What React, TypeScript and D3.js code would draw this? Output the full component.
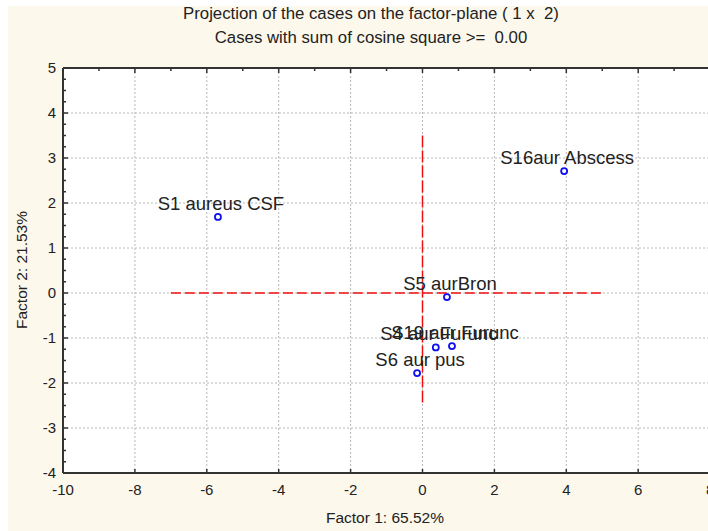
import React from "react";
import * as d3 from "d3";

const caseNames = ["S1 aureus CSF", "S16aur Abscess", "S5 aurBron", "S4 aur Furunc", "S19 aur Furunc", "S6 aur pus"];
const factor1 = [-5.69, 3.94, 0.68, 0.37, 0.82, -0.15];
const factor2 = [1.69, 2.71, -0.09, -1.21, -1.18, -1.78];
const xTicks = [-10, -8, -6, -4, -2, 0, 2, 4, 6, 8];
const yTicks = [-4, -3, -2, -1, 0, 1, 2, 3, 4, 5];
const titleLines = ["Projection of the cases on the factor-plane ( 1 x  2)", "Cases with sum of cosine square >=  0.00"];
const xTitle = "Factor 1: 65.52%";
const yTitle = "Factor 2: 21.53%";
const hLineRange = [-7, 5];
const vLineRange = [-2.5, 3.5];

export default function App() {
  const W = 708, H = 531;
  const x = d3.scaleLinear().domain([-10, 10]).range([63, 782]);
  const y = d3.scaleLinear().domain([-4, 5]).range([473, 68]);
  const font = "Arial, 'Liberation Sans', sans-serif";
  const x0 = x(-10), x1 = x(10), yTop = y(5), yBot = y(-4);
  const minorY = d3.range(-4, 5.001, 0.25);
  const topTicks = d3.range(-10, 10.001, 1);
  const pre = { whiteSpace: "pre" as const };
  return (
    <svg width={W} height={H} style={{ position: "absolute", left: 0, top: 0 }} fontFamily={font}>
      <rect x={0} y={0} width={W} height={H} fill="#ffffff" />
      <rect x={8} y={6} width={W - 8} height={H - 6} fill="#fdf8ec" />
      <text x={371} y={19} textAnchor="middle" fontSize={16.8} fill="#222" style={pre}>{titleLines[0]}</text>
      <text x={371} y={43} textAnchor="middle" fontSize={16.8} fill="#222" style={pre}>{titleLines[1]}</text>
      <rect x={x0} y={yTop} width={x1 - x0} height={yBot - yTop} fill="#ffffff" />
      {/* grid */}
      {yTicks.filter(t => t > -4 && t < 5).map(t => (
        <line key={"gy" + t} x1={x0} x2={x1} y1={y(t)} y2={y(t)} stroke="#b8b8b8" strokeWidth={1} strokeDasharray="2,2" />
      ))}
      {xTicks.filter(t => t > -10).map(t => (
        <line key={"gx" + t} x1={x(t)} x2={x(t)} y1={yTop} y2={yBot} stroke="#b8b8b8" strokeWidth={1} strokeDasharray="2,2" />
      ))}
      {/* red reference lines */}
      <line x1={x(hLineRange[0])} x2={x(hLineRange[1])} y1={y(0)} y2={y(0)} stroke="#f01010" strokeWidth={1.5} strokeDasharray="10,4" />
      <line x1={x(0)} x2={x(0)} y1={y(vLineRange[1])} y2={y(vLineRange[0])} stroke="#f01010" strokeWidth={1.5} strokeDasharray="12,3" />
      {/* frame */}
      <line x1={x0} x2={x1} y1={yTop} y2={yTop} stroke="#333" strokeWidth={2} />
      <line x1={x0} x2={x1} y1={yBot} y2={yBot} stroke="#333" strokeWidth={2} />
      <line x1={x0} x2={x0} y1={yTop} y2={yBot} stroke="#333" strokeWidth={2} />
      {minorY.map(t => {
        const major = Math.abs(t - Math.round(t)) < 1e-6;
        return <line key={"my" + t} x1={x0} x2={x0 + (major ? 5 : 3)} y1={y(t)} y2={y(t)} stroke="#333" strokeWidth={1.5} />;
      })}
      {topTicks.map(t => {
        const major = t % 2 === 0;
        return <line key={"tt" + t} x1={x(t)} x2={x(t)} y1={yTop} y2={yTop + (major ? 5 : 3)} stroke="#333" strokeWidth={1.5} />;
      })}
      {xTicks.map(t => (
        <line key={"bt" + t} x1={x(t)} x2={x(t)} y1={yBot} y2={yBot - 4} stroke="#333" strokeWidth={1.5} />
      ))}
      {/* tick labels */}
      {yTicks.map(t => (
        <text key={"yl" + t} x={56} y={y(t) + 5} textAnchor="end" fontSize={15} fill="#222">{t}</text>
      ))}
      {xTicks.map(t => (
        <text key={"xl" + t} x={x(t)} y={495} textAnchor="middle" fontSize={15} fill="#222">{t}</text>
      ))}
      <text x={385} y={523} textAnchor="middle" fontSize={15.5} fill="#222">{xTitle}</text>
      <text transform={`translate(27,270) rotate(-90)`} textAnchor="middle" fontSize={15.5} fill="#222">{yTitle}</text>
      {/* points and labels */}
      {caseNames.map((n, i) => (
        <g key={n}>
          <circle cx={x(factor1[i])} cy={y(factor2[i])} r={3} fill="none" stroke="#1010ee" strokeWidth={1.8} />
          <text x={x(factor1[i]) + 3} y={y(factor2[i]) - 7} textAnchor="middle" fontSize={18.5} fill="#222">{n}</text>
        </g>
      ))}
    </svg>
  );
}
